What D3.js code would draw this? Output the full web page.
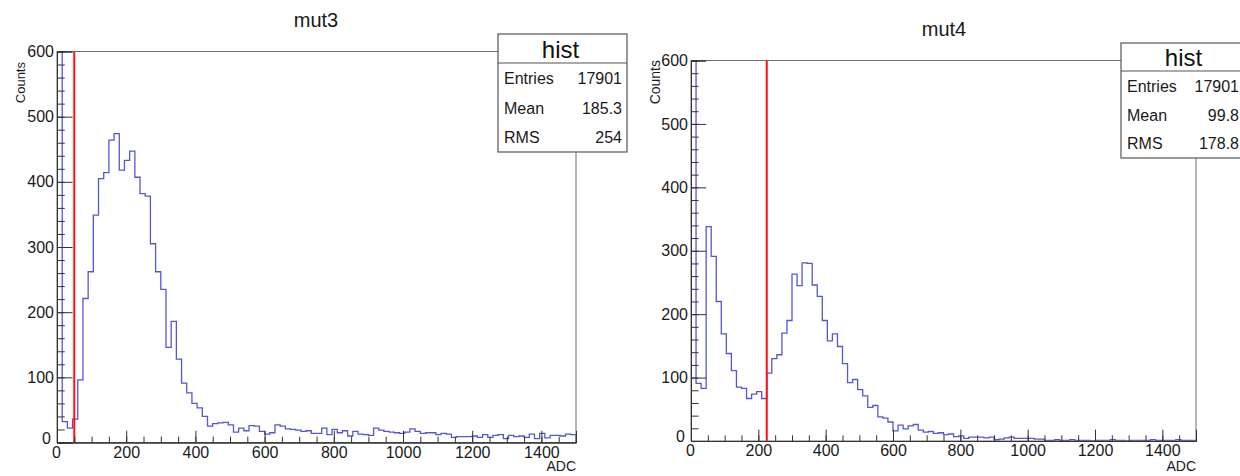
<!DOCTYPE html>
<html>
<head>
<meta charset="utf-8">
<script src="https://cdn.jsdelivr.net/npm/d3@7"></script>
<style>
  html, body { margin: 0; padding: 0; background: #fff; }
  svg { display: block; font-family: "Liberation Sans", Arial, Helvetica, sans-serif; }
</style>
</head>
<body>
<div id="chart"></div>
<script>
// Histogram range (ADC), 100 bins of 15
const adcRange = [0, 1500];
const binWidth = 15;
const countRange = [0, 600];

// mut3 bin contents (bin 0 is the pedestal, far above the frame)
const mut3Counts = [
  10000, 32, 22, 36, 96, 221, 262, 349, 405, 414,
  464, 474, 418, 433, 447, 407, 382, 378, 305, 262,
  235, 146, 186, 128, 91, 76, 60, 53, 40, 25,
  29, 30, 31, 27, 16, 22, 18, 26, 25, 17,
  13, 15, 27, 25, 21, 20, 19, 17, 18, 14,
  14, 22, 12, 20, 15, 18, 10, 17, 13, 12,
  11, 22, 19, 17, 16, 15, 14, 16, 21, 17,
  14, 15, 15, 12, 14, 13, 8, 9, 9, 9,
  10, 8, 12, 8, 11, 12, 6, 11, 9, 10,
  8, 13, 6, 14, 7, 11, 11, 10, 13, 12
];

// mut4 bin contents
const mut4Counts = [
  10000, 91, 83, 338, 291, 220, 169, 138, 111, 85,
  83, 67, 74, 78, 67, 107, 130, 136, 170, 190,
  263, 245, 281, 280, 246, 228, 190, 158, 169, 149,
  122, 92, 97, 81, 71, 53, 56, 38, 36, 30,
  16, 25, 19, 24, 26, 17, 14, 15, 12, 13,
  10, 11, 7, 8, 4, 6, 6, 6, 5, 6,
  2, 3, 5, 6, 4, 4, 4, 4, 3, 3,
  1, 1, 2, 1, 1, 2, 1, 1, 1, 0,
  1, 1, 1, 2, 1, 1, 0, 1, 1, 1,
  1, 2, 1, 1, 1, 1, 2, 1, 1, 1
];

// axis ticks
const xTickValues = [0, 200, 400, 600, 800, 1000, 1200, 1400];
const yTickValues = [0, 100, 200, 300, 400, 500, 600];

// stats boxes
const statNames = ["Entries", "Mean", "RMS"];
const mut3Stats = ["17901", "185.3", "254"];
const mut4Stats = ["17901", "99.8", "178.8"];

// threshold lines
const mut3Cut = 50;
const mut4Cut = 225;

const svg = d3.select("#chart")
  .append("svg")
    .attr("width", 1240)
    .attr("height", 476);

svg.append("rect")
  .attr("width", 1240)
  .attr("height", 476)
  .attr("fill", "#fff");

function drawPanel(p) {
  var x = d3.scaleLinear().domain(adcRange).range([p.left, p.right]);
  var y = d3.scaleLinear().domain(countRange).range([p.bottom, p.top]);
  var g = svg.append("g");

  // clip to the frame so the pedestal spike stops at the top
  g.append("clipPath")
      .attr("id", "clip-" + p.id)
    .append("rect")
      .attr("x", p.left)
      .attr("y", p.top)
      .attr("width", p.right - p.left)
      .attr("height", p.bottom - p.top);

  // step outline of the histogram
  var pts = [[x(adcRange[0]), y(0)]];
  p.counts.forEach(function(c, i) {
    var lo = adcRange[0] + i * binWidth;
    pts.push([x(lo), y(c)], [x(lo + binWidth), y(c)]);
  });
  pts.push([x(adcRange[1]), y(0)]);

  g.append("path")
    .attr("d", d3.line()(pts))
    .attr("fill", "none")
    .attr("stroke", "#5656d4")
    .attr("stroke-width", 1.3)
    .attr("clip-path", "url(#clip-" + p.id + ")");

  // cut line
  g.append("line")
    .attr("x1", x(p.cut)).attr("x2", x(p.cut))
    .attr("y1", y(0)).attr("y2", y(countRange[1]))
    .attr("stroke", "#ff1010")
    .attr("stroke-width", 2);

  // frame
  g.append("rect")
    .attr("x", p.left)
    .attr("y", p.top)
    .attr("width", p.right - p.left)
    .attr("height", p.bottom - p.top)
    .attr("fill", "none")
    .attr("stroke", "#6e6e6e")
    .attr("stroke-width", 1);

  // ROOT style ticks: 3% of the other axis, drawn inside
  var yTickLen = 0.03 * (p.right - p.left);
  var xTickLen = 0.03 * (p.bottom - p.top);
  var fmt = d3.format("d");

  var yMinor = g.append("g")
    .attr("transform", "translate(" + p.left + ",0)")
    .call(d3.axisLeft(y).tickValues(d3.range(0, 601, 20)).tickSize(-yTickLen / 2).tickFormat(""));
  var yMajor = g.append("g")
    .attr("transform", "translate(" + p.left + ",0)")
    .call(d3.axisLeft(y).tickValues(yTickValues).tickSize(-yTickLen).tickPadding(3).tickFormat(fmt));
  var xMinor = g.append("g")
    .attr("transform", "translate(0," + p.bottom + ")")
    .call(d3.axisBottom(x).tickValues(d3.range(0, 1501, 50)).tickSize(-xTickLen / 2).tickFormat(""));
  var xMajor = g.append("g")
    .attr("transform", "translate(0," + p.bottom + ")")
    .call(d3.axisBottom(x).tickValues(xTickValues).tickSize(-xTickLen).tickPadding(4).tickFormat(fmt));

  [yMinor, yMajor, xMinor, xMajor].forEach(function(a) {
    a.select(".domain").attr("stroke", "#333");
    a.selectAll(".tick line").attr("stroke", "#333");
    a.selectAll("text")
      .attr("fill", "#1a1a1a")
      .style("font-size", "16px")
      .style("font-family", "Liberation Sans, Arial, sans-serif");
  });
  // the two zeros share the corner, as in ROOT
  xMajor.selectAll(".tick")
    .filter(function(d) { return d === 0; })
    .select("text").attr("dx", "-1px");
  yMajor.selectAll(".tick")
    .filter(function(d) { return d === 0; })
    .select("text").attr("dy", "0.05em").attr("x", -6);

  // title
  g.append("text")
    .attr("x", p.titleX)
    .attr("y", p.titleY)
    .attr("text-anchor", "middle")
    .attr("fill", "#1a1a1a")
    .style("font-size", "20px")
    .text(p.title);

  // axis titles
  g.append("text")
    .attr("transform", "translate(" + p.countsX + "," + p.countsY + ") rotate(-90)")
    .attr("text-anchor", "end")
    .attr("fill", "#1a1a1a")
    .style("font-size", p.countsSize + "px")
    .text("Counts");

  g.append("text")
    .attr("x", p.right)
    .attr("y", 471)
    .attr("text-anchor", "end")
    .attr("fill", "#1a1a1a")
    .style("font-size", "14px")
    .text("ADC");

  // stats box
  var b = p.box;
  var box = svg.append("g");
  box.append("rect")
    .attr("x", b.x).attr("y", b.y)
    .attr("width", b.w).attr("height", b.h)
    .attr("fill", "#fff")
    .attr("stroke", "#555")
    .attr("stroke-width", 1.2);
  box.append("line")
    .attr("x1", b.x).attr("x2", b.x + b.w)
    .attr("y1", b.div).attr("y2", b.div)
    .attr("stroke", "#555")
    .attr("stroke-width", 1.2);
  box.append("text")
    .attr("x", b.x + b.w / 2 - 2)
    .attr("y", b.histY)
    .attr("text-anchor", "middle")
    .attr("fill", "#111")
    .style("font-size", "24px")
    .text("hist");
  statNames.forEach(function(name, i) {
    box.append("text")
      .attr("x", b.x + 6)
      .attr("y", b.rowY[i])
      .attr("fill", "#1a1a1a")
      .style("font-size", "16px")
      .text(name);
    box.append("text")
      .attr("x", b.valueX)
      .attr("y", b.rowY[i])
      .attr("text-anchor", "end")
      .attr("fill", "#1a1a1a")
      .style("font-size", "16px")
      .text(p.stats[i]);
  });
}

drawPanel({
  id: "mut3", title: "mut3", counts: mut3Counts, cut: mut3Cut, stats: mut3Stats,
  left: 57, right: 576, top: 51.5, bottom: 442.5,
  titleX: 316, titleY: 27,
  countsX: 25, countsY: 62, countsSize: 13,
  box: { x: 498, y: 34, w: 129, h: 118, div: 63, histY: 58, rowY: [84, 114, 143], valueX: 622 }
});

drawPanel({
  id: "mut4", title: "mut4", counts: mut4Counts, cut: mut4Cut, stats: mut4Stats,
  left: 691, right: 1196, top: 60.5, bottom: 441,
  titleX: 944, titleY: 36,
  countsX: 660, countsY: 60, countsSize: 14,
  box: { x: 1121, y: 43, w: 129, h: 115, div: 71, histY: 66, rowY: [92, 121, 149], valueX: 1239 }
});
</script>
</body>
</html>
